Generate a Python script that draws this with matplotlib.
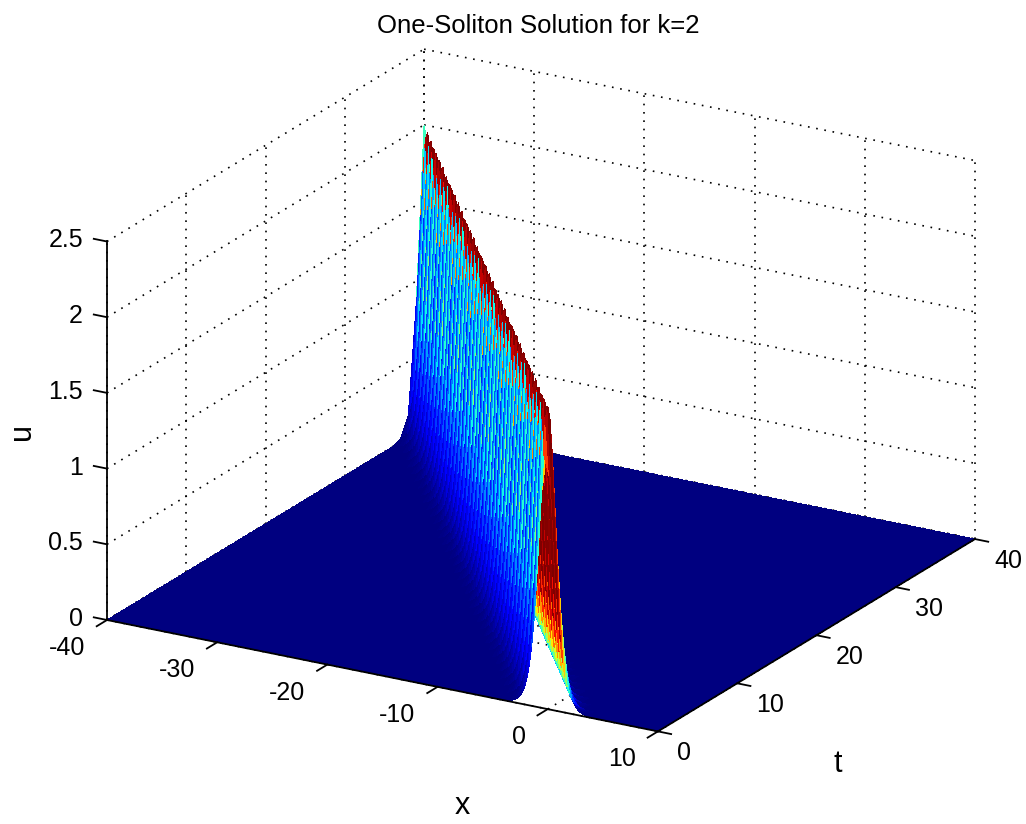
import numpy as np
import matplotlib
matplotlib.use('Agg')
import matplotlib.pyplot as plt
from mpl_toolkits.mplot3d import proj3d

W, H = 1026, 824

x_ticks = [-40, -30, -20, -10, 0, 10]
t_ticks = [0, 10, 20, 30, 40]
u_ticks = [0, 0.5, 1, 1.5, 2, 2.5]
u_tick_labels = ['0', '0.5', '1', '1.5', '2', '2.5']

# height of the pulse, read every 1/24 of a unit away from the crest
u_profile = [2.000, 1.997, 1.986, 1.969, 1.946, 1.916, 1.880, 1.839, 1.793, 1.743,
             1.689, 1.632, 1.573, 1.511, 1.449, 1.385, 1.321, 1.257, 1.193, 1.131,
             1.069, 1.009, 0.951, 0.894, 0.840, 0.788, 0.738, 0.690, 0.645, 0.602,
             0.561, 0.522, 0.486, 0.452, 0.420, 0.390, 0.361, 0.335, 0.310, 0.288,
             0.266, 0.246, 0.228, 0.210, 0.194, 0.180, 0.166, 0.153, 0.141, 0.130,
             0.120, 0.111, 0.102, 0.094, 0.087, 0.080, 0.074, 0.068, 0.063, 0.058,
             0.053, 0.049, 0.045, 0.041, 0.038, 0.035, 0.032, 0.030, 0.027, 0.025,
             0.023, 0.021, 0.020, 0.018, 0.017, 0.015, 0.014, 0.013, 0.012, 0.011,
             0.010, 0.009, 0.009, 0.008, 0.007, 0.0]

x_grid = np.linspace(-40, 10, 241)
t_grid = np.linspace(0, 40, 41)

plt.rcParams['font.family'] = ['Liberation Sans', 'DejaVu Sans']

X, T = np.meshgrid(x_grid, t_grid)
idx = np.rint(np.abs(X + T) * 24).astype(int)
U = np.array(u_profile)[np.minimum(idx, len(u_profile) - 1)]

fig = plt.figure(figsize=(W / 100, H / 100), dpi=100)
ax = fig.add_axes([0.1, 0.1, 800 / W, 800 / H], projection='3d', proj_type='ortho')
ax.view_init(elev=20.5, azim=-60)
ax.set_box_aspect((636, 634, 404))
ax.computed_zorder = False
ax.set_axis_off()

x0, x1 = x_ticks[0], x_ticks[-1]
t0, t1 = t_ticks[0], t_ticks[-1]
u0, u1 = u_ticks[0], u_ticks[-1]

grid_style = dict(color='k', lw=1.2, ls=(0, (1, 4)), zorder=1)
for x in x_ticks:
    ax.plot([x, x], [t0, t1], [u0, u0], **grid_style)
    ax.plot([x, x], [t1, t1], [u0, u1], **grid_style)
for t in t_ticks:
    ax.plot([x0, x1], [t, t], [u0, u0], **grid_style)
    ax.plot([x0, x0], [t, t], [u0, u1], **grid_style)
for u in u_ticks:
    ax.plot([x0, x0], [t0, t1], [u, u], **grid_style)
    ax.plot([x0, x1], [t1, t1], [u, u], **grid_style)

colors = plt.cm.jet(U / 2.0)
surf = ax.plot_surface(X, T, U, facecolors=colors, rstride=1, cstride=1,
                       shade=False, antialiased=False, linewidth=0, zorder=2, zsort='min')

axis_style = dict(color='k', lw=1.3, zorder=3)
ax.plot([x0, x1], [t0, t0], [u0, u0], **axis_style)
ax.plot([x1, x1], [t0, t1], [u0, u0], **axis_style)
ax.plot([x0, x0], [t0, t0], [u0, u1], **axis_style)
for x in x_ticks:
    ax.plot([x, x], [t0, t0 - 1.3], [u0, u0], **axis_style)
for t in t_ticks:
    ax.plot([x1, x1 + 1.2], [t, t], [u0, u0], **axis_style)
for u in u_ticks:
    ax.plot([x0, x0 - 1.2], [t0, t0], [u, u], **axis_style)

ax.set_xlim(x0, x1)
ax.set_ylim(t0, t1)
ax.set_zlim(u0, u1)


def project(x, t, u):
    px, py, _ = proj3d.proj_transform(x, t, u, ax.get_proj())
    return px, py


# fit the cube onto the corners of the original
side = 800.0
left, bottom = 100.0, 10.0
ax.set_position([left / W, bottom / H, side / W, side / H])
a = ax.transData.transform(project(x0, t0, u0))
b = ax.transData.transform(project(x1, t1, u0))
f = (975 - 107) / (b[0] - a[0])
side *= f
ax.set_position([left / W, bottom / H, side / W, side / H])
a = ax.transData.transform(project(x0, t0, u0))
left += 107 - a[0]
bottom += (H - 620) - a[1]
ax.set_position([left / W, bottom / H, side / W, side / H])

size = 18
for x in x_ticks:
    ax.annotate(str(x), project(x, t0, u0), xytext=(-22, -28), textcoords='offset pixels',
                ha='right', va='center', fontsize=size, annotation_clip=False)
for t in t_ticks:
    ax.annotate(str(t), project(x1, t, u0), xytext=(19, -22), textcoords='offset pixels',
                ha='left', va='center', fontsize=size, annotation_clip=False)
for u, lab in zip(u_ticks, u_tick_labels):
    ax.annotate(lab, project(x0, t0, u), xytext=(-24, 1), textcoords='offset pixels',
                ha='right', va='center', fontsize=size, annotation_clip=False)

fig.text(538 / W, 1 - 26 / H, 'One-Soliton Solution for k=2', ha='center', va='center', fontsize=18.5)
fig.text(462 / W, 1 - 806 / H, 'x', ha='center', va='center', fontsize=22)
fig.text(838 / W, 1 - 764 / H, 't', ha='center', va='center', fontsize=22)
fig.text(22 / W, 1 - 432 / H, 'u', ha='center', va='center', fontsize=22, rotation=90)

fig.savefig('out.png', dpi=100)
